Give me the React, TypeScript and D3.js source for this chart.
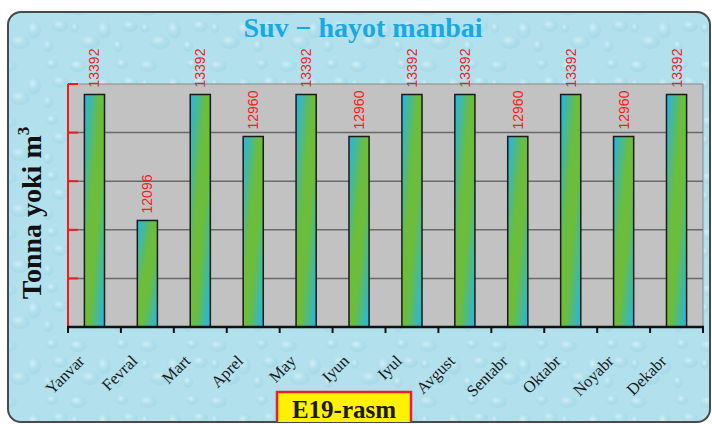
import React from "react";
import * as d3 from "d3";

const months = ["Yanvar","Fevral","Mart","Aprel","May","Iyun","Iyul","Avgust","Sentabr","Oktabr","Noyabr","Dekabr"];
const values = [13392,12096,13392,12960,13392,12960,13392,13392,12960,13392,12960,13392];
const yTicks = [11000,11500,12000,12500,13000,13500];
const titleText = "Suv − hayot manbai";
const yTitle = "Tonna yoki m";
const figLabel = "E19-rasm";

const W = 712, H = 424;
const PL = 68, PR = 703, PT = 84, PB = 327;

export default function App() {
  const x = d3.scaleBand<string>().domain(months).range([PL, PR]).paddingInner(0.62).paddingOuter(0.31);
  const xb = d3.scaleBand<string>().domain(months).range([PL, PR]);
  const y = d3.scaleLinear().domain([11000, 13500]).range([PB, PT]);
  const bounds = [PL, ...months.map(m => (xb(m) as number) + xb.bandwidth())];

  const drops = [
    [8,10,9,6],[34,30,7,9],[52,8,6,5],[20,42,10,7],[48,46,5,6],[60,26,8,6],[5,28,4,5]
  ];

  return (
    <svg width={W} height={H} style={{ position: "absolute", left: 0, top: 0 }} xmlns="http://www.w3.org/2000/svg">
      <defs>
        <linearGradient id="barGrad" x1="0" y1="0" x2="1" y2="1">
          <stop offset="0" stopColor="#22b5ec" />
          <stop offset="0.4" stopColor="#6cbd3c" />
          <stop offset="0.6" stopColor="#6cbd3c" />
          <stop offset="1" stopColor="#22b5ec" />
        </linearGradient>
        <radialGradient id="dropGrad" cx="0.4" cy="0.35" r="0.7">
          <stop offset="0" stopColor="#dff5fa" stopOpacity="0.7" />
          <stop offset="0.6" stopColor="#a3d8e7" stopOpacity="0.4" />
          <stop offset="1" stopColor="#86c9dd" stopOpacity="0.25" />
        </radialGradient>
        <pattern id="water" width="70" height="56" patternUnits="userSpaceOnUse">
          <rect width="70" height="56" fill="#b2e1ed" />
          {drops.map((d, i) => (
            <ellipse key={i} cx={d[0]} cy={d[1]} rx={d[2]} ry={d[3]} fill="url(#dropGrad)" />
          ))}
        </pattern>
        <clipPath id="frameClip">
          <rect x={8} y={12} width={702} height={410} rx={13} />
        </clipPath>
      </defs>

      <rect x={0} y={0} width={W} height={H} fill="#ffffff" />
      <rect x={8} y={12} width={702} height={410} rx={13} fill="url(#water)" stroke="#4a4a4a" strokeWidth={2} />

      <text x={363} y={37} textAnchor="middle" fontFamily="'Liberation Serif', serif" fontWeight="bold" fontSize={28} fill="#17a9e3">{titleText}</text>

      {/* plot area */}
      <rect x={PL} y={PT} width={PR - PL} height={PB - PT} fill="#c2c2c2" stroke="#8a8a8a" strokeWidth={1} />
      {yTicks.slice(1, -1).map(t => (
        <line key={t} x1={PL} x2={PR} y1={y(t)} y2={y(t)} stroke="#6a6a6a" strokeWidth={1.5} />
      ))}

      {/* bars */}
      {months.map((m, i) => (
        <rect key={m} x={x(m)} y={y(values[i])} width={x.bandwidth()} height={PB - y(values[i])} fill="url(#barGrad)" stroke="#1a1a1a" strokeWidth={1.5} />
      ))}

      {/* value labels */}
      {months.map((m, i) => {
        const cx = (x(m) as number) + x.bandwidth() / 2;
        return (
          <text key={m} transform={`translate(${cx + 5},${y(values[i]) - 7}) rotate(-90)`} textAnchor="start" fontFamily="'Liberation Sans', Arial, sans-serif" fontSize={14} fill="#f01e1e">{values[i]}</text>
        );
      })}

      {/* y axis */}
      <line x1={PL} x2={PL} y1={PT} y2={PB} stroke="#ee1c1c" strokeWidth={2} />
      {yTicks.slice(1).map(t => (
        <line key={t} x1={PL} x2={PL + 10} y1={y(t)} y2={y(t)} stroke="#ee1c1c" strokeWidth={2} />
      ))}

      {/* x axis */}
      <line x1={PL - 1} x2={PR + 1} y1={PB} y2={PB} stroke="#111" strokeWidth={2.5} />
      {bounds.map((b, i) => (
        <line key={i} x1={b} x2={b} y1={PB} y2={PB + 6} stroke="#111" strokeWidth={2} />
      ))}

      {months.map(m => {
        const cx = (xb(m) as number) + xb.bandwidth() / 2;
        return (
          <text key={m} transform={`translate(${cx - 9},${362}) rotate(-45)`} textAnchor="end" fontFamily="'Liberation Serif', serif" fontSize={16.5} fill="#1a1a1a">{m}</text>
        );
      })}

      {/* y title */}
      <text transform={`translate(41,213) rotate(-90)`} textAnchor="middle" fontFamily="'Liberation Serif', serif" fontWeight="bold" fontSize={28} fill="#111">
        {yTitle}<tspan fontSize={17} dy={-12}>3</tspan>
      </text>

      {/* figure label */}
      <g clipPath="url(#frameClip)">
        <rect x={277} y={392} width={134} height={40} fill="#fff200" stroke="#ee1c24" strokeWidth={2.5} />
      </g>
      <text x={344} y={418} textAnchor="middle" fontFamily="'Liberation Serif', serif" fontWeight="bold" fontSize={25} fill="#1a1a1a">{figLabel}</text>
    </svg>
  );
}
